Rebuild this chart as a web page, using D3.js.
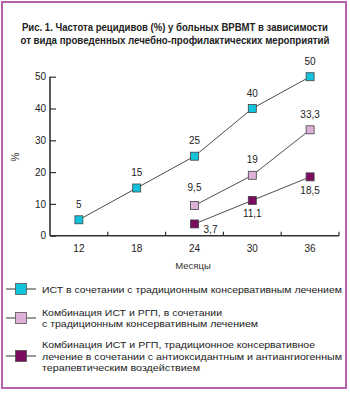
<!DOCTYPE html>
<html><head><meta charset="utf-8">
<script src="https://cdn.jsdelivr.net/npm/d3@7"></script>
<style>
html,body{margin:0;padding:0;background:#fff;}
svg{display:block;font-family:"Liberation Sans",Arial,sans-serif;}
</style></head>
<body>
<svg id="chart" width="350" height="393"></svg>
<script>
const titleLines = ["Рис. 1. Частота рецидивов (%) у больных ВРВМТ в зависимости",
                    "от вида проведенных лечебно-профилактических мероприятий"];
const months = ["12","18","24","30","36"];
const yTicks = [0,10,20,30,40,50];
const seriesIST  = [5,15,25,40,50];
const seriesRGP  = [null,null,9.5,19,33.3];
const seriesAnti = [null,null,3.7,11.1,18.5];
const seriesNames = [
  ["ИСТ в сочетании с традиционным консервативным лечением"],
  ["Комбинация ИСТ и РГП, в сочетании","с традиционным консервативным лечением"],
  ["Комбинация ИСТ и РГП, традиционное консервативное","лечение в сочетании с антиоксидантным и антиангиогенным","терапевтическим воздействием"]
];
const seriesColors = ["#12c3dc","#deb0d8","#7b0b5e"];
const xTitle = "Месяцы", yTitle = "%";

const locale = d3.formatLocale({decimal:",",thousands:" ",grouping:[3],currency:["",""]});
const fmt = locale.format("~g");

const svg = d3.select("#chart");

// shrink font so natural width stays within maxW, then condense to target width
function fitWidth(sel, target, maxW, baseSize){
  sel.each(function(d,i){
    const t = target(d,i);
    const el = d3.select(this);
    let w = this.getComputedTextLength();
    if (w > maxW) {
      el.attr("font-size", baseSize * maxW / w);
      w = this.getComputedTextLength();
    }
    if (Math.abs(w - t) > 1) {
      el.attr("textLength", t).attr("lengthAdjust","spacingAndGlyphs");
    }
  });
}

// frame
svg.append("rect").attr("x",2).attr("y",2).attr("width",344).attr("height",386)
  .attr("fill","none").attr("stroke","#b464ae").attr("stroke-width",2);

// title
const tt = svg.append("g").selectAll("text").data(titleLines).join("text")
  .attr("x",175).attr("y",(d,i)=>31+i*12.5).attr("text-anchor","middle")
  .attr("font-size",11).attr("font-weight","bold").attr("fill","#222")
  .text(d=>d);
fitWidth(tt,(d,i)=>i?309:306, 320, 11);

const x = d3.scaleBand().domain(months).range([50,339]);
const y = d3.scaleLinear().domain([0,50]).range([235.7,76.7]);

const axisColor="#333";
// y axis
const gy = svg.append("g").attr("transform","translate(50,0)")
  .call(d3.axisLeft(y).tickValues(yTicks).tickSize(-6).tickPadding(10));
gy.select(".domain").attr("stroke",axisColor).attr("stroke-width",1.6).attr("d",`M0,${y(50)}V${y(0)}`);
gy.selectAll(".tick line").attr("stroke",axisColor).attr("stroke-width",1.2);
gy.selectAll(".tick text").attr("font-size",10).attr("fill","#222").attr("font-family","Liberation Sans,Arial,sans-serif").attr("x",-4);

// x axis
const gx = svg.append("g").attr("transform",`translate(0,${y(0)})`)
  .call(d3.axisBottom(x).tickSize(0).tickPadding(9));
gx.select(".domain").attr("stroke",axisColor).attr("stroke-width",1.6).attr("d",`M50,0H339`);
gx.selectAll(".tick text").attr("font-size",10).attr("fill","#222").attr("font-family","Liberation Sans,Arial,sans-serif");
// boundary ticks
gx.append("g").selectAll("line").data(months).join("line")
  .attr("x1",d=>x(d)+x.bandwidth()).attr("x2",d=>x(d)+x.bandwidth())
  .attr("y1",0).attr("y2",-4).attr("stroke",axisColor).attr("stroke-width",1.2);

// y title
svg.append("text").attr("transform","translate(19,157) rotate(-90)")
  .attr("text-anchor","middle").attr("font-size",10).attr("fill","#333").text(yTitle);
// x title
svg.append("text").attr("x",193).attr("y",269).attr("text-anchor","middle")
  .attr("font-size",9.5).attr("fill","#333").text(xTitle);

const allSeries = [seriesIST, seriesRGP, seriesAnti];
const cx = i => x(months[i]) + x.bandwidth()/2;
const line = d3.line().defined(d=>d.v!=null).x(d=>cx(d.i)).y(d=>y(d.v));
const msz = 8;
allSeries.forEach((s,k)=>{
  const pts = s.map((v,i)=>({v,i}));
  svg.append("path").datum(pts).attr("d",line).attr("fill","none")
    .attr("stroke","#3a3a3a").attr("stroke-width",0.9);
  const valid = pts.filter(d=>d.v!=null);
  svg.append("g").selectAll("rect").data(valid).join("rect")
    .attr("x",d=>cx(d.i)-msz/2).attr("y",d=>y(d.v)-msz/2)
    .attr("width",msz).attr("height",msz)
    .attr("fill",seriesColors[k]).attr("stroke","#444").attr("stroke-width",0.8);
  svg.append("g").selectAll("text").data(valid).join("text")
    .attr("x",d=> k===2 && d.i===2 ? cx(d.i)+16 : cx(d.i))
    .attr("y",d=> k===2 ? y(d.v)+(d.i===2?9:17) : y(d.v)-(k===1&&d.i===2?14:12))
    .attr("text-anchor","middle").attr("font-size",10).attr("fill","#222")
    .text(d=>fmt(d.v));
});

// legend
const legendTop = [289, 318, 356];
const lineH = 11.2;
const lw = [[300],[180,216],[273,300,158]];
seriesNames.forEach((names,k)=>{
  const g = svg.append("g");
  const cy = legendTop[k];
  g.append("line").attr("x1",6).attr("x2",36).attr("y1",cy).attr("y2",cy)
    .attr("stroke","#555").attr("stroke-width",1.2);
  g.append("rect").attr("x",15.5).attr("y",cy-5.5).attr("width",11).attr("height",11)
    .attr("fill",seriesColors[k]).attr("stroke","#555").attr("stroke-width",0.8);
  const n = names.length;
  const tx = g.selectAll("text").data(names).join("text")
    .attr("x",42).attr("y",(d,i)=>cy + 3.5 + (i-(n-1)/2)*lineH)
    .attr("font-size",9.8).attr("fill","#222")
    .text(d=>d);
  fitWidth(tx,(d,i)=>lw[k][i], 300, 9.8);
});
</script>
</body></html>
